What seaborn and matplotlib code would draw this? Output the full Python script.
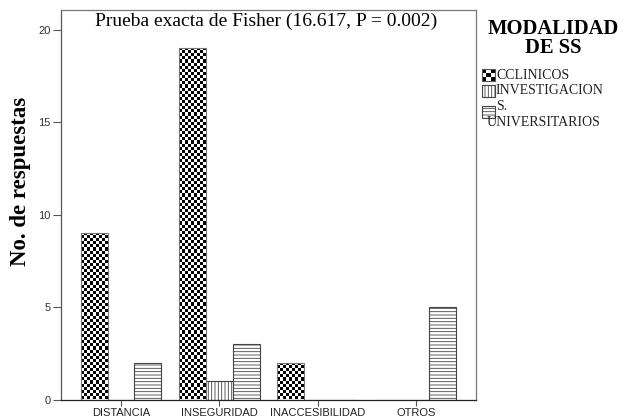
import numpy as np
import pandas as pd
import matplotlib
matplotlib.use("Agg")
import matplotlib.pyplot as plt
from matplotlib.patches import Rectangle
import seaborn as sns

# Response counts per reason, by service modality
categories = ["DISTANCIA", "INSEGURIDAD", "INACCESIBILIDAD", "OTROS"]
modalidades = ["CCLINICOS", "INVESTIGACION", "S.\nUNIVERSITARIOS"]
cclinicos = [9, 19, 2, 0]
investigacion = [0, 1, 0, 0]
universitarios = [2, 3, 0, 5]
y_ticks = [0, 5, 10, 15, 20]

titulo = "Prueba exacta de Fisher (16.617, P = 0.002)"
ylabel = "No. de respuestas"
leyenda_titulo = "MODALIDAD\nDE SS"

rows = []
for mod, vals in zip(modalidades, [cclinicos, investigacion, universitarios]):
    for cat, v in zip(categories, vals):
        rows.append({"motivo": cat, "modalidad": mod, "n": v})
df = pd.DataFrame(rows)

sns.set_theme(style="white")
plt.rcParams["hatch.linewidth"] = 0.6
SERIF = ["Liberation Serif", "DejaVu Serif"]
SANS = ["Liberation Sans", "DejaVu Sans"]

W, H = 630, 419
fig = plt.figure(figsize=(W / 100, H / 100), dpi=100)


def fx(x):
    return x / W


def fy(y):
    return 1 - y / H


# axes box in pixels: left 61, right 476, top 10, bottom 399.5
ax = fig.add_axes([fx(61), fy(399.5), fx(476 - 61), (399.5 - 10) / H])

sns.barplot(data=df, x="motivo", y="n", hue="modalidad", order=categories,
            hue_order=modalidades, palette=["white"] * 3, saturation=1,
            width=0.82, edgecolor="#444444", linewidth=0.8, errorbar=None,
            legend=False, ax=ax)

ax.set_xlim(-0.61, 3.61)
ax.set_ylim(0, 21.08)
ax.set_yticks(y_ticks)
ax.set_yticklabels([str(t) for t in y_ticks], fontfamily=SANS, fontsize=8,
                   color="#333333")
ax.set_xticks(range(len(categories)))
ax.set_xticklabels(categories, fontfamily=SANS, fontsize=8, color="#222222")
ax.set_xlabel("")
ax.set_ylabel("")
ax.tick_params(axis="y", direction="out", length=5.8, width=0.8,
               color="#555555", pad=1.5, left=True)
ax.tick_params(axis="x", direction="out", length=4.3, width=0.8,
               color="#555555", pad=1.5, bottom=True)
for side, col in [("left", "#555555"), ("bottom", "#222222"),
                  ("top", "#777777"), ("right", "#777777")]:
    ax.spines[side].set_visible(True)
    ax.spines[side].set_color(col)
    ax.spines[side].set_linewidth(0.9)

# hatch fills for the striped series
for patch in ax.containers[1]:
    patch.set_hatch("|||||")
for patch in ax.containers[2]:
    patch.set_hatch("-----")

# checkerboard fill for the first series, clipped to each bar
ax.set_autoscale_on(False)
cell_px = 3.1
for patch in ax.containers[0]:
    h = patch.get_height()
    if h <= 0:
        continue
    x0, w = patch.get_x(), patch.get_width()
    (px0, py0), (px1, py1) = ax.transData.transform([(x0, 0), (x0 + w, h)])
    nx = max(1, int(round((px1 - px0) / cell_px)))
    ny = max(1, int(round((py1 - py0) / cell_px)))
    board = np.add.outer(np.arange(ny), np.arange(nx)) % 2
    im = ax.imshow(board, cmap="gray", vmin=0, vmax=1, origin="lower",
                   extent=(x0, x0 + w, 0, h), aspect="auto",
                   interpolation="nearest", zorder=0.9)
    im.set_clip_path(patch)
    patch.set_facecolor("none")
    patch.set_edgecolor("#777777")
    patch.set_zorder(1.5)
ax.set_xlim(-0.61, 3.61)
ax.set_ylim(0, 21.08)

# titles
fig.text(fx(266), fy(21), titulo, ha="center", va="center",
         fontfamily=SERIF, fontsize=14, color="black")
fig.text(fx(21), fy(181), ylabel, ha="center", va="center", rotation=90,
         fontfamily=SERIF, fontsize=16.5, fontweight="bold", color="black")

# legend
fig.text(fx(553), fy(19), leyenda_titulo, ha="center", va="top",
         multialignment="center", fontfamily=SERIF, fontsize=14.8,
         fontweight="bold", linespacing=0.95, color="black")

hx, hw, hh = 482, 13, 12
# checker handle
ncell = 3
cw, ch = hw / ncell, hh / ncell
for i in range(ncell):
    for j in range(ncell):
        col = "black" if (i + j) % 2 == 0 else "white"
        fig.add_artist(Rectangle((fx(hx + j * cw), fy(69 + (i + 1) * ch)),
                                 cw / W, ch / H, transform=fig.transFigure,
                                 facecolor=col, edgecolor="none"))
fig.add_artist(Rectangle((fx(hx), fy(81)), hw / W, hh / H,
                         transform=fig.transFigure, facecolor="none",
                         edgecolor="#555555", linewidth=0.8))
fig.add_artist(Rectangle((fx(hx), fy(97)), hw / W, hh / H,
                         transform=fig.transFigure, facecolor="white",
                         edgecolor="#444444", linewidth=0.8, hatch="|||||"))
fig.add_artist(Rectangle((fx(hx), fy(118)), hw / W, hh / H,
                         transform=fig.transFigure, facecolor="white",
                         edgecolor="#444444", linewidth=0.8, hatch="-----"))

lab_kw = dict(fontfamily=SERIF, fontsize=10, color="#222222", va="center",
              ha="left")
fig.text(fx(496), fy(75), "CCLINICOS", **lab_kw)
fig.text(fx(496), fy(91), "INVESTIGACION", **lab_kw)
fig.text(fx(496), fy(107), "S.", **lab_kw)
fig.text(fx(487), fy(123), "UNIVERSITARIOS", **lab_kw)

fig.savefig("out.png", dpi=100)
